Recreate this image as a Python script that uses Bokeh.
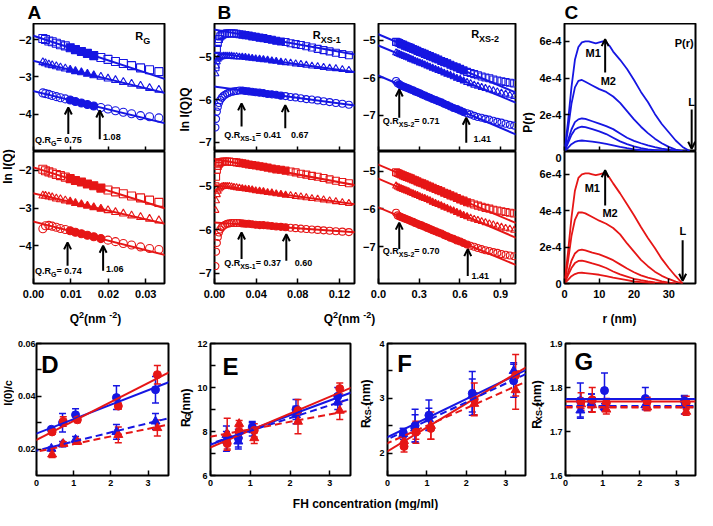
import math
from bokeh.plotting import figure
from bokeh.layouts import row, column
from bokeh.models import (Range1d, FixedTicker, Label, Slope, Arrow, OpenHead,
                          Whisker, TeeHead, ColumnDataSource, NumeralTickFormatter)
from bokeh.embed import file_html
from bokeh.resources import INLINE

# ------------------------------------------------------------------ data
# Panel A: Guinier R_G plots  (ln I(Q) vs Q^2)
a_q2 = [0.0025, 0.0032, 0.0041, 0.0050, 0.0061, 0.0072, 0.0085, 0.0098, 0.0112, 0.0128,
        0.0144, 0.0161, 0.0180, 0.0199, 0.0219, 0.0240, 0.0262, 0.0286, 0.0310, 0.0335]
a_blue_sq = [-1.97, -2.00, -2.04, -2.06, -2.10, -2.14, -2.17, -2.22, -2.27, -2.32,
             -2.37, -2.43, -2.48, -2.53, -2.59, -2.64, -2.70, -2.76, -2.81, -2.86]
a_blue_tri = [-2.61, -2.64, -2.67, -2.69, -2.72, -2.75, -2.78, -2.81, -2.85, -2.88,
              -2.92, -2.96, -3.00, -3.05, -3.09, -3.14, -3.19, -3.24, -3.30, -3.35]
a_blue_cir = [-3.43, -3.45, -3.47, -3.50, -3.53, -3.56, -3.59, -3.62, -3.66, -3.70,
              -3.74, -3.78, -3.82, -3.86, -3.91, -3.95, -3.99, -4.04, -4.07, -4.10]
a_red_sq = [-1.97, -2.01, -2.04, -2.07, -2.11, -2.14, -2.18, -2.22, -2.27, -2.31,
            -2.36, -2.41, -2.47, -2.52, -2.57, -2.62, -2.68, -2.73, -2.79, -2.85]
a_red_tri = [-2.67, -2.68, -2.70, -2.72, -2.75, -2.77, -2.80, -2.83, -2.87, -2.90,
             -2.94, -2.98, -3.02, -3.06, -3.11, -3.15, -3.20, -3.24, -3.29, -3.33]
a_red_cir = [-3.55, -3.47, -3.46, -3.48, -3.51, -3.54, -3.57, -3.60, -3.64, -3.68,
             -3.72, -3.76, -3.81, -3.85, -3.89, -3.94, -3.98, -4.03, -4.07, -4.10]
a_blue_fit_b0 = [-1.90, -2.57, -3.38]
a_blue_fit_k = [-32.9, -24.6, -24.6]
a_red_fit_b0 = [-1.92, -2.61, -3.36]
a_red_fit_k = [-31.0, -22.9, -25.1]
a_blue_window = [0.0093, 0.0177]
a_red_window = [0.0091, 0.0186]
a_blue_qr = ["0.75", "1.08"]
a_red_qr = ["0.74", "1.06"]

# Panel B: R_XS-1 plots (ln I(Q)Q vs Q^2)
b_q2 = [0.0009, 0.0015, 0.0023, 0.0032, 0.0043, 0.0056, 0.0070, 0.0085, 0.0102, 0.0121,
        0.0142, 0.0164, 0.0187, 0.0212, 0.0239, 0.0267, 0.0297, 0.0329, 0.0362, 0.0396,
        0.0433, 0.0470, 0.0510, 0.0551, 0.0593, 0.0638, 0.0683, 0.0731, 0.0780, 0.0830,
        0.0882, 0.0936, 0.0991, 0.1048, 0.1106, 0.1166, 0.1228, 0.1291]
b_blue_sq = [-5.25, -5.00, -4.82, -4.68, -4.59, -4.53, -4.50, -4.48, -4.47, -4.46,
             -4.46, -4.46, -4.46, -4.47, -4.48, -4.49, -4.50, -4.51, -4.53, -4.54,
             -4.56, -4.57, -4.59, -4.61, -4.63, -4.65, -4.66, -4.69, -4.71, -4.73,
             -4.76, -4.79, -4.82, -4.85, -4.88, -4.91, -4.94, -4.97]
b_blue_tri = [-5.40, -5.22, -5.12, -5.06, -5.03, -5.01, -5.00, -4.99, -4.99, -4.99,
              -4.99, -4.99, -5.00, -5.00, -5.01, -5.01, -5.02, -5.03, -5.04, -5.05,
              -5.06, -5.07, -5.08, -5.10, -5.11, -5.13, -5.14, -5.15, -5.17, -5.18,
              -5.20, -5.22, -5.23, -5.25, -5.27, -5.28, -5.30, -5.32]
b_blue_cir = [-6.65, -6.45, -6.28, -6.17, -6.08, -6.01, -5.96, -5.92, -5.89, -5.86,
              -5.84, -5.82, -5.81, -5.80, -5.79, -5.79, -5.80, -5.81, -5.82, -5.83,
              -5.84, -5.85, -5.87, -5.88, -5.89, -5.91, -5.92, -5.94, -5.95, -5.97,
              -5.99, -6.00, -6.02, -6.04, -6.06, -6.08, -6.10, -6.12]
b_red_sq = [-5.00, -4.78, -4.62, -4.53, -4.48, -4.45, -4.44, -4.43, -4.43, -4.43,
            -4.43, -4.44, -4.44, -4.45, -4.46, -4.47, -4.48, -4.50, -4.51, -4.52,
            -4.54, -4.55, -4.57, -4.59, -4.61, -4.62, -4.64, -4.66, -4.68, -4.71,
            -4.73, -4.76, -4.78, -4.81, -4.84, -4.87, -4.90, -4.93]
b_red_tri = [-5.55, -5.33, -5.19, -5.11, -5.06, -5.03, -5.01, -5.00, -5.00, -5.00,
             -5.00, -5.01, -5.02, -5.03, -5.04, -5.05, -5.06, -5.07, -5.08, -5.10,
             -5.11, -5.12, -5.14, -5.15, -5.17, -5.18, -5.20, -5.21, -5.23, -5.24,
             -5.26, -5.28, -5.29, -5.31, -5.33, -5.35, -5.37, -5.39]
b_red_cir = [-6.83, -6.50, -6.30, -6.16, -6.06, -5.99, -5.94, -5.91, -5.88, -5.86,
             -5.85, -5.84, -5.84, -5.84, -5.84, -5.85, -5.86, -5.86, -5.87, -5.88,
             -5.89, -5.89, -5.90, -5.91, -5.92, -5.93, -5.94, -5.95, -5.96, -5.97,
             -5.98, -5.99, -6.00, -6.01, -6.02, -6.03, -6.04, -6.05]
b_blue_fit_b0 = [-4.37, -4.91, -5.70]
b_blue_fit_k = [-4.31, -3.35, -3.27]
b_red_fit_b0 = [-4.37, -4.97, -5.83]
b_red_fit_k = [-4.46, -3.27, -1.64]
b_blue_window = [0.026, 0.068]
b_red_window = [0.026, 0.069]
b_blue_qr = ["0.41", "0.67"]
b_red_qr = ["0.37", "0.60"]

# Panel B (right): R_XS-2 plots
x2_q2 = [0.1296, 0.1414, 0.1537, 0.1665, 0.1798, 0.1936, 0.2079, 0.2228, 0.2381, 0.2540,
         0.2704, 0.2873, 0.3047, 0.3226, 0.3411, 0.3600, 0.3795, 0.3994, 0.4199, 0.4409,
         0.4624, 0.4844, 0.5069, 0.5300, 0.5535, 0.5776, 0.6022, 0.6273, 0.6529, 0.6790,
         0.7056, 0.7327, 0.7604, 0.7885, 0.8172, 0.8464, 0.8761, 0.9063, 0.9370, 0.9683, 1.0000]
x2_blue_sq = [-5.04, -5.05, -5.07, -5.10, -5.11, -5.14, -5.16, -5.18, -5.20, -5.23,
              -5.25, -5.28, -5.31, -5.33, -5.36, -5.39, -5.42, -5.45, -5.48, -5.51,
              -5.55, -5.58, -5.61, -5.65, -5.69, -5.72, -5.76, -5.80, -5.84, -5.87,
              -5.90, -5.93, -5.96, -5.99, -6.01, -6.04, -6.07, -6.09, -6.11, -6.13, -6.15]
x2_blue_tri = [-5.33, -5.35, -5.37, -5.39, -5.41, -5.43, -5.45, -5.47, -5.50, -5.52,
               -5.55, -5.57, -5.60, -5.62, -5.65, -5.68, -5.71, -5.74, -5.77, -5.80,
               -5.83, -5.87, -5.90, -5.93, -5.97, -6.01, -6.04, -6.08, -6.12, -6.15,
               -6.19, -6.22, -6.25, -6.28, -6.31, -6.34, -6.37, -6.40, -6.43, -6.46, -6.49]
x2_blue_cir = [-6.08, -6.14, -6.17, -6.20, -6.22, -6.24, -6.26, -6.28, -6.31, -6.33,
               -6.36, -6.38, -6.41, -6.44, -6.47, -6.50, -6.53, -6.56, -6.59, -6.62,
               -6.65, -6.69, -6.72, -6.76, -6.80, -6.83, -6.87, -6.91, -6.94, -6.97,
               -7.01, -7.04, -7.06, -7.09, -7.11, -7.14, -7.17, -7.19, -7.22, -7.25, -7.27]
x2_red_sq = [-5.03, -5.05, -5.07, -5.09, -5.11, -5.13, -5.15, -5.17, -5.19, -5.22,
             -5.24, -5.27, -5.30, -5.32, -5.35, -5.38, -5.41, -5.44, -5.47, -5.50,
             -5.53, -5.57, -5.60, -5.64, -5.67, -5.71, -5.75, -5.78, -5.82, -5.85,
             -5.88, -5.91, -5.94, -5.97, -5.99, -6.02, -6.04, -6.06, -6.08, -6.10, -6.12]
x2_red_tri = [-5.39, -5.42, -5.44, -5.46, -5.48, -5.50, -5.52, -5.54, -5.57, -5.59,
              -5.62, -5.64, -5.67, -5.70, -5.72, -5.75, -5.78, -5.82, -5.85, -5.88,
              -5.91, -5.95, -5.98, -6.02, -6.05, -6.09, -6.13, -6.17, -6.20, -6.24,
              -6.27, -6.30, -6.33, -6.36, -6.39, -6.42, -6.45, -6.48, -6.51, -6.53, -6.56]
x2_red_cir = [-6.10, -6.17, -6.19, -6.21, -6.23, -6.25, -6.27, -6.29, -6.32, -6.34,
              -6.37, -6.39, -6.42, -6.44, -6.47, -6.50, -6.53, -6.56, -6.59, -6.62,
              -6.65, -6.69, -6.72, -6.76, -6.79, -6.83, -6.86, -6.90, -6.94, -6.97,
              -7.00, -7.03, -7.06, -7.09, -7.11, -7.14, -7.16, -7.19, -7.21, -7.23, -7.25]
x2_blue_fit_b0 = [-4.84, -5.14, -5.94]
x2_blue_fit_k = [-1.53, -1.50, -1.545]
x2_red_fit_b0 = [-4.83, -5.20, -5.96]
x2_red_fit_k = [-1.52, -1.54, -1.50]
x2_blue_window = [0.153, 0.647]
x2_red_window = [0.153, 0.658]
x2_blue_qr = ["0.71", "1.41"]
x2_red_qr = ["0.70", "1.41"]

# Panel C: P(r) distance distributions (P in units of 1e-4)
c_b1_r = [0, 1, 2, 3, 4, 5, 6, 7, 8, 9, 10, 11, 12, 13, 14, 16, 18, 20, 22, 24, 26, 28, 30, 32, 34, 36]
c_b1_p = [0, 1.6, 3.5, 5.0, 5.7, 5.95, 6.0, 6.0, 5.95, 5.9, 5.95, 6.0, 5.95, 5.75, 5.45,
          5.0, 4.5, 3.9, 3.25, 2.7, 2.05, 1.5, 1.05, 0.6, 0.25, 0.02]
c_b2_r = [0, 1, 2, 3, 4, 5, 6, 8, 10, 12, 14, 16, 18, 20, 22, 24, 26, 28, 30, 32, 34, 35]
c_b2_p = [0, 1.2, 2.6, 3.5, 3.85, 3.9, 3.8, 3.6, 3.4, 3.25, 3.0, 2.65, 2.2, 1.75, 1.35,
          1.0, 0.7, 0.45, 0.25, 0.1, 0.02, 0]
c_b3_r = [0, 1, 2, 3, 4, 5, 6, 8, 10, 12, 14, 16, 18, 20, 22, 24, 26, 28, 30, 32, 33]
c_b3_p = [0, 0.6, 1.2, 1.6, 1.75, 1.8, 1.78, 1.65, 1.52, 1.38, 1.22, 0.98, 0.75, 0.58,
          0.45, 0.33, 0.24, 0.16, 0.1, 0.04, 0]
c_b4_r = [0, 1, 2, 3, 4, 5, 6, 8, 10, 12, 14, 16, 18, 20, 22, 24, 26, 28, 30, 31]
c_b4_p = [0, 0.45, 0.9, 1.2, 1.3, 1.35, 1.33, 1.22, 1.1, 0.95, 0.75, 0.55, 0.4, 0.28,
          0.19, 0.12, 0.08, 0.04, 0.01, 0]
c_b5_r = [0, 1, 2, 3, 4, 5, 6, 8, 10, 12, 14, 16, 18, 20, 22, 24, 26, 28]
c_b5_p = [0, 0.2, 0.4, 0.52, 0.58, 0.6, 0.58, 0.54, 0.48, 0.41, 0.33, 0.25, 0.18, 0.12,
          0.07, 0.04, 0.01, 0]
c_r1_r = [0, 1, 2, 3, 4, 5, 6, 7, 8, 9, 10, 11, 12, 13, 14, 16, 18, 20, 22, 24, 26, 28, 30, 32, 33, 34]
c_r1_p = [0, 1.7, 3.6, 5.1, 5.8, 6.0, 6.05, 6.05, 6.0, 5.95, 6.0, 6.05, 6.0, 5.8, 5.5,
          4.95, 4.35, 3.75, 3.1, 2.5, 1.95, 1.35, 0.85, 0.4, 0.2, 0]
c_r2_r = [0, 1, 2, 3, 4, 5, 6, 8, 10, 12, 14, 16, 18, 20, 22, 24, 26, 28, 30, 32, 34]
c_r2_p = [0, 1.2, 2.6, 3.5, 3.9, 3.9, 3.85, 3.65, 3.45, 3.28, 3.05, 2.7, 2.2, 1.75, 1.3,
          0.95, 0.65, 0.42, 0.25, 0.1, 0]
c_r3_r = [0, 1, 2, 3, 4, 5, 6, 8, 10, 12, 14, 16, 18, 20, 22, 24, 26, 28, 30, 32]
c_r3_p = [0, 0.6, 1.25, 1.65, 1.82, 1.86, 1.82, 1.7, 1.6, 1.45, 1.28, 1.05, 0.82, 0.62,
          0.45, 0.32, 0.22, 0.12, 0.05, 0]
c_r4_r = [0, 1, 2, 3, 4, 5, 6, 8, 10, 12, 14, 16, 18, 20, 22, 24, 26, 28, 30]
c_r4_p = [0, 0.45, 0.85, 1.12, 1.24, 1.26, 1.22, 1.1, 1.0, 0.85, 0.66, 0.5, 0.38, 0.26,
          0.18, 0.11, 0.06, 0.03, 0]
c_r5_r = [0, 1, 2, 3, 4, 5, 6, 8, 10, 12, 14, 16, 18, 20, 22, 24, 26]
c_r5_p = [0, 0.2, 0.4, 0.52, 0.58, 0.59, 0.57, 0.53, 0.48, 0.4, 0.32, 0.25, 0.18, 0.11,
          0.07, 0.03, 0]

# Panels D-G: concentration dependence (FH concentration, mg/ml)
conc_blue = [0.40, 0.70, 1.05, 2.15, 3.20]
conc_red = [0.42, 0.72, 1.10, 2.20, 3.25]
d_blue_cir = [0.0275, 0.0300, 0.0330, 0.0395, 0.0425]
d_blue_cir_err = [0.0008, 0.0035, 0.0023, 0.0045, 0.0050]
d_red_cir = [0.0265, 0.0305, 0.0311, 0.0363, 0.0482]
d_red_cir_err = [0.0008, 0.0018, 0.0010, 0.0012, 0.0035]
d_blue_tri = [0.0202, 0.0219, 0.0236, 0.0265, 0.0305]
d_blue_tri_err = [0.0006, 0.0010, 0.0012, 0.0028, 0.0030]
d_red_tri = [0.0180, 0.0220, 0.0228, 0.0254, 0.0280]
d_red_tri_err = [0.0012, 0.0008, 0.0010, 0.0030, 0.0030]
d_fit_b0 = [0.0259, 0.0235, 0.0194, 0.0190]   # blue solid, red solid, blue dashed, red dashed
d_fit_k = [0.00546, 0.00718, 0.00346, 0.00290]

e_blue_cir = [7.55, 7.70, 8.20, 9.00, 9.60]
e_blue_cir_err = [0.45, 0.40, 0.25, 0.45, 0.40]
e_red_cir = [7.45, 8.00, 8.05, 8.95, 9.95]
e_red_cir_err = [0.30, 0.30, 0.30, 0.50, 0.25]
e_blue_tri = [7.85, 7.55, 8.10, 8.75, 9.35]
e_blue_tri_err = [0.40, 0.35, 0.30, 0.40, 0.35]
e_red_tri = [7.90, 8.35, 7.70, 8.45, 8.95]
e_red_tri_err = [0.70, 0.15, 0.25, 0.55, 0.40]
e_fit_b0 = [7.40, 7.28, 7.45, 7.76]
e_fit_k = [0.670, 0.767, 0.580, 0.340]

f_blue_cir = [2.37, 2.50, 2.69, 3.09, 3.32]
f_blue_cir_err = [0.08, 0.30, 0.28, 0.40, 0.30]
f_red_cir = [2.12, 2.38, 2.45, 2.98, 3.42]
f_red_cir_err = [0.10, 0.20, 0.20, 0.30, 0.38]
f_blue_tri = [2.35, 2.45, 2.62, 3.05, 3.50]
f_blue_tri_err = [0.10, 0.25, 0.20, 0.30, 0.15]
f_red_tri = [2.22, 2.40, 2.50, 2.90, 3.15]
f_red_tri_err = [0.12, 0.15, 0.25, 0.20, 0.35]
f_fit_b0 = [2.29, 2.03, 2.25, 2.18]
f_fit_k = [0.349, 0.437, 0.340, 0.320]

g_blue_cir = [1.770, 1.770, 1.793, 1.775, 1.770]
g_blue_cir_err = [0.040, 0.015, 0.040, 0.025, 0.012]
g_red_cir = [1.768, 1.772, 1.765, 1.768, 1.765]
g_red_cir_err = [0.020, 0.028, 0.010, 0.010, 0.015]
g_blue_tri = [1.748, 1.765, 1.755, 1.760, 1.760]
g_blue_tri_err = [0.015, 0.020, 0.008, 0.010, 0.020]
g_red_tri = [1.762, 1.760, 1.750, 1.755, 1.745]
g_red_tri_err = [0.010, 0.015, 0.010, 0.008, 0.008]
g_fit_b0 = [1.774, 1.768, 1.757, 1.755]
g_fit_k = [0.0, 0.0, 0.0, 0.0]

# ------------------------------------------------------------------ styling helpers
FONT = "Liberation Sans"
BLUE = "#1616e2"
RED = "#e61616"
MK = ["square", "triangle", "circle"]

W = {' ': 278, '(': 333, ')': 333, '.': 278, '/': 278, '-': 333, '=': 584,
     'A': 722, 'B': 722, 'C': 722, 'D': 722, 'E': 667, 'F': 611, 'G': 778, 'H': 722,
     'I': 278, 'L': 611, 'M': 833, 'P': 667, 'Q': 778, 'R': 722, 'S': 667, 'X': 667,
     'a': 556, 'c': 556, 'e': 556, 'g': 611, 'h': 611, 'i': 278, 'l': 278, 'm': 889,
     'n': 611, 'o': 611, 'r': 389, 't': 333}


def tw(s, size):
    return sum(W.get(ch, 556) for ch in s) * size / 1000.0


def lab(p, x, y, text, size, **kw):
    opts = dict(text_font=FONT, text_font_style="bold", text_font_size=f"{size}px",
                text_color="black", text_baseline="middle", text_align="left")
    opts.update(kw)
    p.add_layout(Label(x=x, y=y, text=text, **opts))


def rich_data(p, x, y, parts):
    off = 0.0
    for t, s, k in parts:
        base = {"n": "middle", "sub": "top", "sup": "bottom"}[k]
        lab(p, x, y, t, s, x_offset=off, text_baseline=base)
        off += tw(t, s)


def rich_pix(p, x, y, parts, rotated=False, sub_shift=3.0):
    widths = [tw(t, s) for t, s, k in parts]
    pos = -sum(widths) / 2.0
    for (t, s, k), w in zip(parts, widths):
        shift = {"n": 0.0, "sub": -sub_shift, "sup": 4.0}[k]
        if rotated:
            lab(p, x - shift, y + pos, t, s, angle=math.pi / 2)
        else:
            lab(p, x + pos, y + shift, t, s)
        pos += w


def blank(w, h):
    p = figure(width=w, height=h, x_range=Range1d(0, w), y_range=Range1d(0, h),
               x_axis_type=None, y_axis_type=None, toolbar_location=None,
               output_backend="svg", min_border=0, title=None)
    p.outline_line_color = None
    return p


def fig(xr, yr, w, h, bl, br, bt, bb):
    p = figure(width=w, height=h, x_range=Range1d(*xr), y_range=Range1d(*yr),
               min_border_left=bl, min_border_right=br, min_border_top=bt,
               min_border_bottom=bb, toolbar_location=None, output_backend="svg", title=None)
    p.grid.visible = False
    p.outline_line_color = "black"
    p.outline_line_width = 2
    return p


def axis_style(ax, ticks, size, standoff, minor=None, hide=False, fmt=None, over=None):
    ax.ticker = FixedTicker(ticks=ticks, minor_ticks=minor or [])
    ax.axis_line_color = None
    ax.major_tick_in = 5
    ax.major_tick_out = 0
    ax.minor_tick_in = 5 if minor else 0
    ax.minor_tick_out = 0
    ax.major_tick_line_width = 1.5
    ax.minor_tick_line_width = 1.5
    ax.major_label_text_font = FONT
    ax.major_label_text_font_style = "bold"
    ax.major_label_text_color = "black"
    if hide:
        ax.major_label_text_font_size = "1px"
        ax.major_label_standoff = 0
        ax.major_label_overrides = {t: "" for t in ticks}
    else:
        ax.major_label_text_font_size = f"{size}px"
        ax.major_label_standoff = standoff
    if fmt:
        ax.formatter = NumeralTickFormatter(format=fmt)
    if over:
        ax.major_label_overrides = over


def guinier(p, q, series, b0s, ks, window, color, size):
    lo, hi = window
    for ys, b0, k, mk in zip(series, b0s, ks, MK):
        inside = [lo <= x <= hi for x in q]
        ox = [x for x, f in zip(q, inside) if not f]
        oy = [y for y, f in zip(ys, inside) if not f]
        fx = [x for x, f in zip(q, inside) if f]
        fy = [y for y, f in zip(ys, inside) if f]
        p.scatter(ox, oy, marker=mk, size=size, fill_color=None, line_color=color, line_width=1.1)
        p.scatter(fx, fy, marker=mk, size=size, fill_color=color, line_color=color, line_width=1.1)
        p.add_layout(Slope(gradient=k, y_intercept=b0, line_color=color, line_width=2))


def arrow(p, x, y0, y1):
    p.add_layout(Arrow(x_start=x, y_start=y0, x_end=x, y_end=y1, line_width=2,
                       line_color="black",
                       end=OpenHead(size=7, line_width=2, line_color="black")))


def conc(p, ser, b0s, ks, dash_w=2):
    styles = [(BLUE, None), (RED, None), (BLUE, "7 4"), (RED, "7 4")]
    for (col, dash), b0, k in zip(styles, b0s, ks):
        kw = dict(line_dash=dash, line_width=dash_w) if dash else dict(line_width=2)
        p.add_layout(Slope(gradient=k, y_intercept=b0, line_color=col, **kw))
    for xs, ys, es, col, mk, sz in ser:
        src = ColumnDataSource(dict(x=xs, y=ys, lo=[y - e for y, e in zip(ys, es)],
                                    hi=[y + e for y, e in zip(ys, es)]))
        p.add_layout(Whisker(source=src, base="x", lower="lo", upper="hi",
                             line_color=col, line_width=1.5,
                             upper_head=TeeHead(size=7, line_color=col, line_width=1.5),
                             lower_head=TeeHead(size=7, line_color=col, line_width=1.5)))
        p.scatter("x", "y", source=src, marker=mk, size=sz, fill_color=col, line_color=col)


TOP_H, BOT_H = 128, 153

# ------------------------------------------------------------------ panel A
A_X = (0, 0.035)
pa1 = fig(A_X, (-5.0, -1.57), 162, TOP_H, 12, 13, 0, 0)
pa2 = fig(A_X, (-5.0, -1.5), 162, BOT_H, 12, 13, 0, 21)
for p in (pa1, pa2):
    axis_style(p.yaxis[0], [-4, -3, -2], 11, 2)
axis_style(pa1.xaxis[0], [0, 0.01, 0.02, 0.03], 11, 6, hide=True)
axis_style(pa2.xaxis[0], [0, 0.01, 0.02, 0.03], 11, 6, fmt="0.00")
guinier(pa1, a_q2, [a_blue_sq, a_blue_tri, a_blue_cir], a_blue_fit_b0, a_blue_fit_k,
        a_blue_window, BLUE, 8)
guinier(pa2, a_q2, [a_red_sq, a_red_tri, a_red_cir], a_red_fit_b0, a_red_fit_k,
        a_red_window, RED, 8)
rich_data(pa1, 0.0272, -1.90, [("R", 11, "n"), ("G", 9, "sub")])
rich_data(pa1, 0.0004, -4.68, [("Q.R", 9, "n"), ("G", 7, "sub"), (" = " + a_blue_qr[0], 9, "n")])
lab(pa1, 0.0186, -4.62, a_blue_qr[1], 9)
arrow(pa1, a_blue_window[0], -4.53, -3.82)
arrow(pa1, a_blue_window[1], -4.67, -3.90)
rich_data(pa2, 0.0004, -4.68, [("Q.R", 9, "n"), ("G", 7, "sub"), (" = " + a_red_qr[0], 9, "n")])
lab(pa2, 0.0194, -4.62, a_red_qr[1], 9)
arrow(pa2, a_red_window[0], -4.53, -3.91)
arrow(pa2, a_red_window[1], -4.66, -4.00)

# ------------------------------------------------------------------ panel B (R_XS-1)
B_X = (0, 0.1345)
pb1 = fig(B_X, (-7.21, -4.23), 167, TOP_H, 22, 5, 0, 0)
pb2 = fig(B_X, (-7.23, -4.2), 167, BOT_H, 22, 5, 0, 21)
for p in (pb1, pb2):
    axis_style(p.yaxis[0], [-7, -6, -5], 11, 3)
axis_style(pb1.xaxis[0], [0, 0.04, 0.08, 0.12], 11, 6, hide=True)
axis_style(pb2.xaxis[0], [0, 0.04, 0.08, 0.12], 11, 6, fmt="0.00")
guinier(pb1, b_q2, [b_blue_sq, b_blue_tri, b_blue_cir], b_blue_fit_b0, b_blue_fit_k,
        b_blue_window, BLUE, 7)
guinier(pb2, b_q2, [b_red_sq, b_red_tri, b_red_cir], b_red_fit_b0, b_red_fit_k,
        b_red_window, RED, 7)
rich_data(pb1, 0.0944, -4.50, [("R", 11, "n"), ("XS-1", 9, "sub")])
rich_data(pb1, 0.0093, -6.83, [("Q.R", 9, "n"), ("XS-1", 7, "sub"), (" = " + b_blue_qr[0], 9, "n")])
lab(pb1, 0.0735, -6.83, b_blue_qr[1], 9)
arrow(pb1, b_blue_window[0], -6.63, -6.09)
arrow(pb1, b_blue_window[1], -6.67, -6.13)
rich_data(pb2, 0.0093, -6.75, [("Q.R", 9, "n"), ("XS-1", 7, "sub"), (" = " + b_red_qr[0], 9, "n")])
lab(pb2, 0.077, -6.75, b_red_qr[1], 9)
arrow(pb2, b_red_window[0], -6.67, -6.06)
arrow(pb2, b_red_window[1], -6.71, -6.10)

# ------------------------------------------------------------------ panel B (R_XS-2)
X2_X = (0, 1.01)
px1 = fig(X2_X, (-7.96, -4.55), 161, TOP_H, 17, 5, 0, 0)
px2 = fig(X2_X, (-7.97, -4.48), 161, BOT_H, 17, 5, 0, 21)
for p in (px1, px2):
    axis_style(p.yaxis[0], [-7, -6, -5], 11, 3)
axis_style(px1.xaxis[0], [0, 0.3, 0.6, 0.9], 11, 6, hide=True)
axis_style(px2.xaxis[0], [0, 0.3, 0.6, 0.9], 11, 6, fmt="0.0")
guinier(px1, x2_q2, [x2_blue_sq, x2_blue_tri, x2_blue_cir], x2_blue_fit_b0, x2_blue_fit_k,
        x2_blue_window, BLUE, 7)
guinier(px2, x2_q2, [x2_red_sq, x2_red_tri, x2_red_cir], x2_red_fit_b0, x2_red_fit_k,
        x2_red_window, RED, 7)
rich_data(px1, 0.683, -4.84, [("R", 11, "n"), ("XS-2", 9, "sub")])
rich_data(px1, 0.031, -7.15, [("Q.R", 9, "n"), ("XS-2", 7, "sub"), (" = " + x2_blue_qr[0], 9, "n")])
lab(px1, 0.70, -7.64, x2_blue_qr[1], 9)
arrow(px1, x2_blue_window[0], -7.06, -6.31)
arrow(px1, x2_blue_window[1], -7.73, -7.06)
rich_data(px2, 0.031, -7.11, [("Q.R", 9, "n"), ("XS-2", 7, "sub"), (" = " + x2_red_qr[0], 9, "n")])
lab(px2, 0.686, -7.76, x2_red_qr[1], 9)
arrow(px2, x2_red_window[0], -7.06, -6.36)
arrow(px2, x2_red_window[1], -7.77, -7.06)

# ------------------------------------------------------------------ panel C (P(r))
C_X = (0, 37.7)
pc1 = fig(C_X, (0, 6.98), 162, TOP_H, 29, 2, 0, 0)
pc2 = fig(C_X, (0, 7.25), 162, BOT_H, 29, 2, 0, 21)
axis_style(pc1.yaxis[0], [0, 2, 4, 6], 11, 3, over={0: "", 2: "2e-4", 4: "4e-4", 6: "6e-4"})
axis_style(pc2.yaxis[0], [0, 2, 4, 6, 6.88], 11, 3, minor=[0, 2, 4, 6],
           over={0: "0", 2: "2e-4", 4: "4e-4", 6: "6e-4", 6.88: "0"})
pc2.yaxis[0].major_tick_in = 0
axis_style(pc1.xaxis[0], [0, 10, 20, 30], 11, 6, hide=True)
axis_style(pc2.xaxis[0], [0, 10, 20, 30], 11, 6)
for rr, pp in ((c_b1_r, c_b1_p), (c_b2_r, c_b2_p), (c_b3_r, c_b3_p), (c_b4_r, c_b4_p), (c_b5_r, c_b5_p)):
    pc1.line(rr, pp, line_color=BLUE, line_width=1.8, line_join="round")
for rr, pp in ((c_r1_r, c_r1_p), (c_r2_r, c_r2_p), (c_r3_r, c_r3_p), (c_r4_r, c_r4_p), (c_r5_r, c_r5_p)):
    pc2.line(rr, pp, line_color=RED, line_width=1.8, line_join="round")
lab(pc1, 31.7, 5.9, "P(r)", 11)
lab(pc1, 6.05, 5.35, "M1", 11)
lab(pc1, 10.4, 3.82, "M2", 11)
lab(pc1, 35.6, 2.68, "L", 11)
arrow(pc1, 36.6, 2.29, 0.15)
arrow(pc1, 11.7, 4.31, 6.13)
lab(pc2, 5.8, 5.23, "M1", 11)
lab(pc2, 10.9, 3.85, "M2", 11)
lab(pc2, 33.1, 2.86, "L", 11)
arrow(pc2, 11.7, 4.28, 6.22)
arrow(pc2, 34.0, 2.37, 0.15)

# ------------------------------------------------------------------ panels D-G
pd = fig((0, 3.55), (0.01, 0.06), 164, 167, 19, 10, 15, 16)
pe = fig((0, 3.52), (6, 12), 164, 167, 16, 8, 12, 16)
pf = fig((0, 3.5), (1.59, 4.0), 155, 167, 13, 4, 12, 18)
pg = fig((0, 3.5), (1.6, 1.9), 152, 167, 20, 2, 9, 20)
for p in (pd, pe, pf, pg):
    axis_style(p.xaxis[0], [0, 1, 2, 3], 9, 4)
axis_style(pd.yaxis[0], [0.02, 0.04, 0.06], 9, 1, minor=[0.03, 0.05])
axis_style(pe.yaxis[0], [6, 8, 10, 12], 9, 3, minor=[7, 9, 11])
axis_style(pf.yaxis[0], [2, 3, 4], 9, 3, minor=[2.5, 3.5])
axis_style(pg.yaxis[0], [1.6, 1.7, 1.8, 1.9], 9, 3)


def series(bc, bce, rc, rce, bt, bte, rt, rte):
    return [(conc_blue, bt, bte, BLUE, "triangle", 9), (conc_red, rt, rte, RED, "triangle", 9),
            (conc_blue, bc, bce, BLUE, "circle", 8), (conc_red, rc, rce, RED, "circle", 8)]


conc(pd, series(d_blue_cir, d_blue_cir_err, d_red_cir, d_red_cir_err,
                d_blue_tri, d_blue_tri_err, d_red_tri, d_red_tri_err), d_fit_b0, d_fit_k)
conc(pe, series(e_blue_cir, e_blue_cir_err, e_red_cir, e_red_cir_err,
                e_blue_tri, e_blue_tri_err, e_red_tri, e_red_tri_err), e_fit_b0, e_fit_k)
conc(pf, series(f_blue_cir, f_blue_cir_err, f_red_cir, f_red_cir_err,
                f_blue_tri, f_blue_tri_err, f_red_tri, f_red_tri_err), f_fit_b0, f_fit_k)
conc(pg, series(g_blue_cir, g_blue_cir_err, g_red_cir, g_red_cir_err,
                g_blue_tri, g_blue_tri_err, g_red_tri, g_red_tri_err), g_fit_b0, g_fit_k, dash_w=2.6)
lab(pd, 0.13, 0.0519, "D", 24)
lab(pe, 0.30, 10.94, "E", 24)
lab(pf, 0.25, 3.64, "F", 24)
lab(pg, 0.24, 1.859, "G", 24)

# ------------------------------------------------------------------ titles and letters
letters = blank(697, 23)
lab(letters, 27, 11.5, "A", 19)
lab(letters, 217, 11.5, "B", 19)
lab(letters, 564, 11.5, "C", 19)

LAB_H = TOP_H + BOT_H
labA = blank(15, LAB_H)
rich_pix(labA, 7.5, 138, [("ln I(Q)", 12, "n")], rotated=True)
labB = blank(15, LAB_H)
rich_pix(labB, 7.5, 195, [("ln I(Q)Q", 12, "n")], rotated=True)
labC = blank(15, LAB_H)
rich_pix(labC, 7.5, 182, [("P(r)", 12, "n")], rotated=True)

strip_top = blank(697, 24)
QLAB = [("Q", 12, "n"), ("2", 9, "sup"), (" (nm", 12, "n"), ("-2", 9, "sup"), (")", 12, "n")]
rich_pix(strip_top, 95, 10, QLAB)
rich_pix(strip_top, 349, 10, QLAB)
rich_pix(strip_top, 619, 10, [("r (nm)", 12, "n")])

labD = blank(14, 167)
rich_pix(labD, 7, 101, [("I(0)/c", 11, "n")], rotated=True)
labE = blank(16, 167)
rich_pix(labE, 7.5, 84, [("R", 12, "n"), ("G", 9, "sub"), (" (nm)", 12, "n")], rotated=True,
         sub_shift=2.3)
labF = blank(16, 167)
rich_pix(labF, 7.5, 89, [("R", 12, "n"), ("XS-1", 9, "sub"), (" (nm)", 12, "n")], rotated=True,
         sub_shift=2.3)
labG = blank(16, 167)
rich_pix(labG, 7.5, 88, [("R", 12, "n"), ("XS-2", 9, "sub"), (" (nm)", 12, "n")], rotated=True,
         sub_shift=2.3)

strip_bot = blank(697, 15)
rich_pix(strip_bot, 365, 7, [("FH concentration (mg/ml)", 12, "n")])

# ------------------------------------------------------------------ layout
top_row = row(labA, column(pa1, pa2), labB, column(pb1, pb2), column(px1, px2),
              labC, column(pc1, pc2))
bot_row = row(labD, pd, labE, pe, labF, pf, labG, pg)
root = column(letters, top_row, strip_top, bot_row, strip_bot)

open("out.html", "w").write(file_html(root, INLINE))
